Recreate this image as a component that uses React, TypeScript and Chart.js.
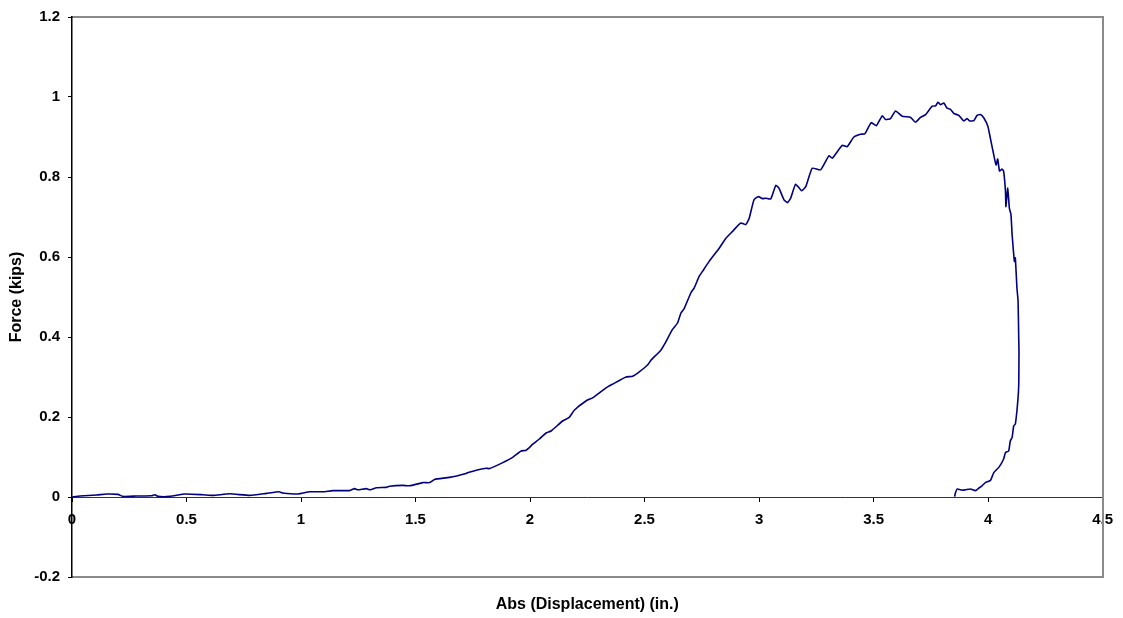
import React, { useEffect, useRef } from "react";
import { Chart, registerables } from "chart.js";

Chart.register(...registerables);

// Abs (Displacement) (in.)
const displacement = [
  0, 0.035, 0.108, 0.151, 0.201, 0.222, 0.282, 0.348, 0.362, 0.375, 0.427, 0.493,
  0.571, 0.615, 0.689, 0.776, 0.849, 0.904, 0.92, 0.987, 1.038, 1.096, 1.139, 1.212,
  1.234, 1.248, 1.285, 1.302, 1.329, 1.372, 1.387, 1.445, 1.474, 1.532, 1.561, 1.583,
  1.648, 1.721, 1.765, 1.808, 1.823, 1.881, 1.924, 1.961, 1.983, 2.012, 2.041, 2.07,
  2.092, 2.142, 2.171, 2.193, 2.244, 2.273, 2.332, 2.36, 2.419, 2.448, 2.477, 2.513,
  2.528, 2.571, 2.593, 2.622, 2.644, 2.659, 2.673, 2.702, 2.717, 2.739, 2.753, 2.782,
  2.826, 2.855, 2.884, 2.92, 2.942, 2.957, 2.978, 2.997, 3.015, 3.029, 3.051, 3.073,
  3.087, 3.109, 3.124, 3.138, 3.16, 3.186, 3.204, 3.232, 3.269, 3.305, 3.32, 3.363,
  3.385, 3.414, 3.443, 3.462, 3.49, 3.512, 3.538, 3.552, 3.574, 3.596, 3.625, 3.662,
  3.683, 3.705, 3.727, 3.756, 3.771, 3.781, 3.792, 3.807, 3.821, 3.836, 3.85, 3.872,
  3.894, 3.909, 3.919, 3.938, 3.952, 3.967, 3.981, 3.999, 4.01, 4.025, 4.035, 4.042,
  4.05, 4.061, 4.068, 4.076, 4.078, 4.086, 4.093, 4.1, 4.105, 4.109, 4.115, 4.119,
  4.126, 4.131, 4.134, 4.135, 4.134, 4.131, 4.126, 4.119, 4.112, 4.105, 4.097, 4.09,
  4.076, 4.068, 4.047, 4.025, 4.01, 3.988, 3.974, 3.959, 3.945, 3.923, 3.901, 3.887,
  3.865, 3.858, 3.854,
];

// Force (kips)
const force = [
  0, 0.0025, 0.005, 0.0075, 0.0065, 0.0015, 0.0025, 0.003, 0.0057, 0.0015, 0.0015, 0.0075,
  0.0057, 0.004, 0.008, 0.004, 0.009, 0.013, 0.01, 0.0075, 0.013, 0.013, 0.016, 0.016,
  0.021, 0.018, 0.021, 0.018, 0.023, 0.024, 0.027, 0.029, 0.028, 0.036, 0.036, 0.044,
  0.049, 0.059, 0.067, 0.072, 0.071, 0.086, 0.099, 0.115, 0.117, 0.132, 0.145, 0.16,
  0.165, 0.19, 0.199, 0.217, 0.24, 0.248, 0.273, 0.282, 0.3, 0.302, 0.313, 0.33,
  0.342, 0.367, 0.388, 0.419, 0.435, 0.46, 0.471, 0.51, 0.523, 0.552, 0.564, 0.589,
  0.622, 0.647, 0.664, 0.685, 0.681, 0.697, 0.743, 0.751, 0.746, 0.747, 0.745, 0.779,
  0.772, 0.743, 0.736, 0.747, 0.782, 0.766, 0.776, 0.822, 0.818, 0.853, 0.847, 0.879,
  0.876, 0.9, 0.907, 0.908, 0.936, 0.928, 0.953, 0.944, 0.946, 0.965, 0.952, 0.949,
  0.937, 0.949, 0.956, 0.977, 0.978, 0.987, 0.981, 0.985, 0.972, 0.969, 0.959, 0.954,
  0.94, 0.946, 0.94, 0.941, 0.954, 0.956, 0.948, 0.927, 0.897, 0.855, 0.83, 0.845,
  0.815, 0.82, 0.814, 0.764, 0.726, 0.772, 0.722, 0.706, 0.656, 0.627, 0.589, 0.598,
  0.523, 0.49, 0.394, 0.365, 0.282, 0.248, 0.215, 0.182, 0.178, 0.149, 0.14, 0.115,
  0.111, 0.095, 0.074, 0.061, 0.041, 0.036, 0.028, 0.022, 0.016, 0.02, 0.018, 0.017,
  0.02, 0.011, 0.001,
];

const xTickLabels = ["0", "0.5", "1", "1.5", "2", "2.5", "3", "3.5", "4", "4.5"];
const yTickLabels = ["-0.2", "0", "0.2", "0.4", "0.6", "0.8", "1", "1.2"];

const xTitle = "Abs (Displacement) (in.)";
const yTitle = "Force (kips)";

const FONT = "'Liberation Sans', Arial, sans-serif";
const LINE = "#000080";
const FRAME = "#8a8a8a";

export default function App() {
  const canvasRef = useRef<HTMLCanvasElement | null>(null);

  useEffect(() => {
    document.body.style.margin = "0";
    const canvas = canvasRef.current;
    if (!canvas) return;
    const points = displacement.map((x, i) => ({ x, y: force[i] }));
    const chart = new Chart(canvas, {
      type: "scatter",
      data: {
        datasets: [
          {
            data: points,
            showLine: true,
            borderColor: LINE,
            backgroundColor: LINE,
            borderWidth: 1.6,
            pointRadius: 0,
            tension: 0.15,
          },
        ],
      },
      options: {
        animation: false,
        responsive: false,
        layout: { padding: { left: 0, right: 19, top: 15, bottom: 0 } },
        plugins: { legend: { display: false }, tooltip: { enabled: false } },
        scales: {
          x: {
            type: "linear",
            axis: "x",
            position: { y: 0 },
            min: 0,
            max: 4.5,
            ticks: {
              stepSize: 0.5,
              color: "#000",
              padding: 10,
              maxRotation: 0,
              autoSkip: false,
              font: { family: FONT, size: 15, weight: "bold" },
              callback: (_v: any, i: number) => xTickLabels[i],
            },
            grid: { drawOnChartArea: false, drawTicks: true, tickLength: 4, color: "#000" },
            border: { display: true, color: "#333", width: 1 },
          },
          x2: {
            type: "linear",
            axis: "x",
            position: "bottom",
            min: 0,
            max: 4.5,
            ticks: { display: false },
            grid: { display: false, drawTicks: false },
            border: { display: true, color: FRAME, width: 2 },
            title: {
              display: true,
              text: xTitle,
              color: "#000",
              padding: { top: 4, bottom: 4 },
              font: { family: FONT, size: 16, weight: "bold" },
            },
            afterFit: (s: any) => {
              s.height = 41;
            },
          },
          xT: {
            type: "linear",
            axis: "x",
            position: "top",
            min: 0,
            max: 4.5,
            ticks: { display: false },
            grid: { display: false, drawTicks: false },
            border: { display: true, color: FRAME, width: 2 },
            afterFit: (s: any) => {
              s.height = 0;
            },
          },
          y: {
            type: "linear",
            position: "left",
            min: -0.2,
            max: 1.2,
            ticks: {
              stepSize: 0.2,
              color: "#000",
              padding: 8,
              font: { family: FONT, size: 15, weight: "bold" },
              callback: (_v: any, i: number) => yTickLabels[i],
            },
            grid: { drawOnChartArea: false, drawTicks: true, tickLength: 4, color: "#000" },
            border: { display: true, color: "#000", width: 1.5 },
            title: {
              display: true,
              text: yTitle,
              color: "#000",
              padding: { top: 7, bottom: 4 },
              font: { family: FONT, size: 16, weight: "bold" },
            },
            afterFit: (s: any) => {
              s.width = 72;
            },
          },
          yR: {
            type: "linear",
            axis: "y",
            position: "right",
            min: -0.2,
            max: 1.2,
            ticks: { display: false },
            grid: { display: false, drawTicks: false },
            border: { display: true, color: FRAME, width: 2 },
            afterFit: (s: any) => {
              s.width = 0;
            },
          },
        },
      },
    } as any);
    return () => chart.destroy();
  }, []);

  return (
    <div style={{ width: 1123, height: 618, background: "#fff" }}>
      <canvas ref={canvasRef} width={1123} height={618} style={{ display: "block" }} />
    </div>
  );
}
